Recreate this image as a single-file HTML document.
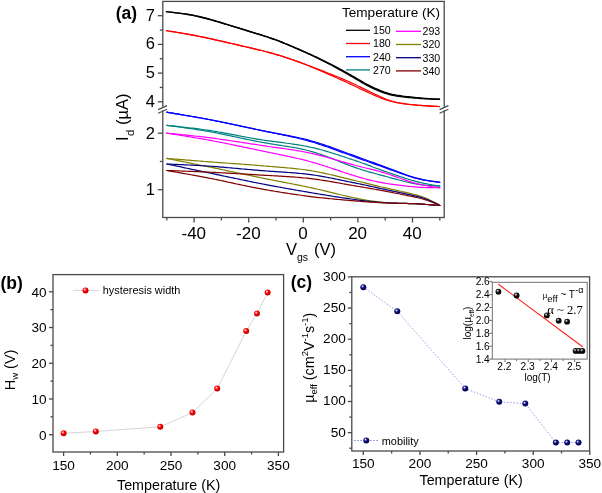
<!DOCTYPE html><html><head><meta charset="utf-8"><style>html,body{margin:0;padding:0;background:#fff;}svg{display:block;will-change:transform;}</style></head><body>
<svg width="602" height="493" viewBox="0 0 602 493">
<defs>
<radialGradient id="gr" cx="0.38" cy="0.35" r="0.62">
 <stop offset="0" stop-color="#ffffff"/><stop offset="0.22" stop-color="#ff8080"/><stop offset="0.45" stop-color="#ff0000"/><stop offset="1" stop-color="#c00000"/>
</radialGradient>
<radialGradient id="gb" cx="0.38" cy="0.35" r="0.62">
 <stop offset="0" stop-color="#ffffff"/><stop offset="0.22" stop-color="#7070c0"/><stop offset="0.45" stop-color="#10107a"/><stop offset="1" stop-color="#000050"/>
</radialGradient>
<radialGradient id="gk" cx="0.38" cy="0.35" r="0.62">
 <stop offset="0" stop-color="#ffffff"/><stop offset="0.22" stop-color="#808080"/><stop offset="0.45" stop-color="#111111"/><stop offset="1" stop-color="#000000"/>
</radialGradient>
</defs>
<rect x="0" y="0" width="602" height="493" fill="#ffffff"/>
<path d="M166.50 11.60 L168.50 11.90 L170.50 12.13 L172.50 12.35 L174.50 12.59 L176.50 12.84 L178.50 13.09 L180.50 13.35 L182.50 13.63 L184.50 13.92 L186.50 14.23 L188.50 14.55 L190.50 14.90 L192.50 15.26 L194.50 15.65 L196.50 16.07 L198.50 16.51 L200.50 16.98 L202.50 17.47 L204.50 17.98 L206.50 18.51 L208.50 19.05 L210.50 19.61 L212.50 20.17 L214.50 20.75 L216.50 21.33 L218.50 21.92 L220.50 22.52 L222.50 23.12 L224.50 23.72 L226.50 24.33 L228.50 24.94 L230.50 25.56 L232.50 26.18 L234.50 26.80 L236.50 27.42 L238.50 28.04 L240.50 28.66 L242.50 29.28 L244.50 29.90 L246.50 30.52 L248.50 31.13 L250.50 31.74 L252.50 32.35 L254.50 32.96 L256.50 33.57 L258.50 34.18 L260.50 34.79 L262.50 35.41 L264.50 36.05 L266.50 36.69 L268.50 37.36 L270.50 38.04 L272.50 38.73 L274.50 39.45 L276.50 40.19 L278.50 40.95 L280.50 41.73 L282.50 42.52 L284.50 43.33 L286.50 44.15 L288.50 44.98 L290.50 45.82 L292.50 46.67 L294.50 47.53 L296.50 48.39 L298.50 49.25 L300.50 50.12 L302.50 50.99 L304.50 51.86 L306.50 52.73 L308.50 53.61 L310.50 54.50 L312.50 55.40 L314.50 56.30 L316.50 57.22 L318.50 58.15 L320.50 59.09 L322.50 60.05 L324.50 61.02 L326.50 62.01 L328.50 63.02 L330.50 64.05 L332.50 65.08 L334.50 66.14 L336.50 67.20 L338.50 68.27 L340.50 69.35 L342.50 70.44 L344.50 71.53 L346.50 72.63 L348.50 73.74 L350.50 74.87 L352.50 76.01 L354.50 77.17 L356.50 78.34 L358.50 79.52 L360.50 80.70 L362.50 81.87 L364.50 83.00 L366.50 84.10 L368.50 85.15 L370.50 86.16 L372.50 87.12 L374.50 88.04 L376.50 88.92 L378.50 89.76 L380.50 90.56 L382.50 91.32 L384.50 92.04 L386.50 92.70 L388.50 93.31 L390.50 93.86 L392.50 94.36 L394.50 94.79 L396.50 95.18 L398.50 95.51 L400.50 95.81 L402.50 96.08 L404.50 96.34 L406.50 96.58 L408.50 96.81 L410.50 97.03 L412.50 97.25 L414.50 97.46 L416.50 97.66 L418.50 97.85 L420.50 98.03 L422.50 98.20 L424.50 98.36 L426.50 98.52 L428.50 98.66 L430.50 98.80 L432.50 98.93 L434.50 99.04 L436.50 99.15 L438.50 99.23 L439.50 99.28" fill="none" stroke="#000000" stroke-width="1.4" stroke-linejoin="round" stroke-linecap="round" />
<path d="M166.50 11.60 L168.50 11.90 L170.50 12.13 L172.50 12.35 L174.50 12.59 L176.50 12.84 L178.50 13.09 L180.50 13.35 L182.50 13.63 L184.50 13.92 L186.50 14.23 L188.50 14.55 L190.50 14.90 L192.50 15.26 L194.50 15.65 L196.50 16.07 L198.50 16.51 L200.50 16.98 L202.50 17.47 L204.50 17.98 L206.50 18.51 L208.50 19.05 L210.50 19.61 L212.50 20.17 L214.50 20.75 L216.50 21.33 L218.50 21.92 L220.50 22.52 L222.50 23.12 L224.50 23.72 L226.50 24.33 L228.50 24.94 L230.50 25.56 L232.50 26.18 L234.50 26.80 L236.50 27.42 L238.50 28.04 L240.50 28.66 L242.50 29.28 L244.50 29.90 L246.50 30.52 L248.50 31.13 L250.50 31.74 L252.50 32.35 L254.50 32.96 L256.50 33.57 L258.50 34.18 L260.50 34.79 L262.50 35.41 L264.50 36.05 L266.50 36.69 L268.50 37.36 L270.50 38.04 L272.50 38.73 L274.50 39.45 L276.50 40.19 L278.50 40.94 L280.50 41.71 L282.50 42.50 L284.50 43.30 L286.50 44.12 L288.50 44.95 L290.50 45.79 L292.50 46.64 L294.50 47.50 L296.50 48.37 L298.50 49.25 L300.50 50.14 L302.50 51.03 L304.50 51.94 L306.50 52.85 L308.50 53.77 L310.50 54.70 L312.50 55.64 L314.50 56.60 L316.50 57.56 L318.50 58.54 L320.50 59.52 L322.50 60.53 L324.50 61.54 L326.50 62.57 L328.50 63.61 L330.50 64.67 L332.50 65.74 L334.50 66.83 L336.50 67.92 L338.50 69.02 L340.50 70.13 L342.50 71.25 L344.50 72.37 L346.50 73.49 L348.50 74.62 L350.50 75.77 L352.50 76.93 L354.50 78.11 L356.50 79.29 L358.50 80.49 L360.50 81.68 L362.50 82.85 L364.50 83.99 L366.50 85.09 L368.50 86.14 L370.50 87.15 L372.50 88.11 L374.50 89.03 L376.50 89.90 L378.50 90.74 L380.50 91.53 L382.50 92.28 L384.50 92.98 L386.50 93.63 L388.50 94.22 L390.50 94.75 L392.50 95.23 L394.50 95.64 L396.50 96.00 L398.50 96.31 L400.50 96.58 L402.50 96.83 L404.50 97.05 L406.50 97.26 L408.50 97.46 L410.50 97.65 L412.50 97.83 L414.50 98.00 L416.50 98.16 L418.50 98.31 L420.50 98.45 L422.50 98.58 L424.50 98.70 L426.50 98.81 L428.50 98.92 L430.50 99.01 L432.50 99.10 L434.50 99.17 L436.50 99.23 L438.50 99.27 L439.50 99.29" fill="none" stroke="#000000" stroke-width="1.4" stroke-linejoin="round" stroke-linecap="round" />
<path d="M166.50 30.60 L168.50 30.98 L170.50 31.29 L172.50 31.59 L174.50 31.92 L176.50 32.25 L178.50 32.58 L180.50 32.92 L182.50 33.26 L184.50 33.60 L186.50 33.95 L188.50 34.31 L190.50 34.67 L192.50 35.05 L194.50 35.43 L196.50 35.82 L198.50 36.22 L200.50 36.62 L202.50 37.04 L204.50 37.46 L206.50 37.89 L208.50 38.32 L210.50 38.76 L212.50 39.20 L214.50 39.64 L216.50 40.09 L218.50 40.54 L220.50 40.99 L222.50 41.44 L224.50 41.89 L226.50 42.35 L228.50 42.81 L230.50 43.27 L232.50 43.73 L234.50 44.19 L236.50 44.65 L238.50 45.12 L240.50 45.58 L242.50 46.05 L244.50 46.51 L246.50 46.98 L248.50 47.45 L250.50 47.92 L252.50 48.39 L254.50 48.86 L256.50 49.33 L258.50 49.80 L260.50 50.29 L262.50 50.77 L264.50 51.27 L266.50 51.78 L268.50 52.31 L270.50 52.85 L272.50 53.41 L274.50 53.98 L276.50 54.57 L278.50 55.18 L280.50 55.80 L282.50 56.43 L284.50 57.08 L286.50 57.74 L288.50 58.41 L290.50 59.09 L292.50 59.78 L294.50 60.47 L296.50 61.17 L298.50 61.88 L300.50 62.59 L302.50 63.31 L304.50 64.04 L306.50 64.77 L308.50 65.51 L310.50 66.26 L312.50 67.01 L314.50 67.78 L316.50 68.54 L318.50 69.32 L320.50 70.09 L322.50 70.87 L324.50 71.66 L326.50 72.45 L328.50 73.24 L330.50 74.03 L332.50 74.83 L334.50 75.64 L336.50 76.45 L338.50 77.26 L340.50 78.08 L342.50 78.92 L344.50 79.76 L346.50 80.62 L348.50 81.49 L350.50 82.39 L352.50 83.30 L354.50 84.24 L356.50 85.20 L358.50 86.18 L360.50 87.16 L362.50 88.15 L364.50 89.14 L366.50 90.12 L368.50 91.09 L370.50 92.05 L372.50 93.01 L374.50 93.96 L376.50 94.90 L378.50 95.83 L380.50 96.74 L382.50 97.62 L384.50 98.45 L386.50 99.24 L388.50 99.96 L390.50 100.61 L392.50 101.21 L394.50 101.74 L396.50 102.22 L398.50 102.64 L400.50 103.02 L402.50 103.37 L404.50 103.69 L406.50 103.99 L408.50 104.27 L410.50 104.52 L412.50 104.74 L414.50 104.95 L416.50 105.13 L418.50 105.29 L420.50 105.43 L422.50 105.55 L424.50 105.68 L426.50 105.80 L428.50 105.92 L430.50 106.04 L432.50 106.16 L434.50 106.28 L436.50 106.39 L438.50 106.51 L439.50 106.57" fill="none" stroke="#ff0000" stroke-width="1.2" stroke-linejoin="round" stroke-linecap="round" />
<path d="M166.50 30.60 L168.50 30.98 L170.50 31.29 L172.50 31.59 L174.50 31.92 L176.50 32.25 L178.50 32.58 L180.50 32.92 L182.50 33.26 L184.50 33.60 L186.50 33.95 L188.50 34.31 L190.50 34.67 L192.50 35.05 L194.50 35.43 L196.50 35.82 L198.50 36.22 L200.50 36.62 L202.50 37.04 L204.50 37.46 L206.50 37.89 L208.50 38.32 L210.50 38.76 L212.50 39.20 L214.50 39.64 L216.50 40.09 L218.50 40.54 L220.50 40.99 L222.50 41.44 L224.50 41.89 L226.50 42.35 L228.50 42.81 L230.50 43.27 L232.50 43.73 L234.50 44.19 L236.50 44.65 L238.50 45.12 L240.50 45.58 L242.50 46.05 L244.50 46.51 L246.50 46.98 L248.50 47.45 L250.50 47.92 L252.50 48.39 L254.50 48.86 L256.50 49.33 L258.50 49.80 L260.50 50.29 L262.50 50.77 L264.50 51.27 L266.50 51.78 L268.50 52.31 L270.50 52.85 L272.50 53.41 L274.50 53.98 L276.50 54.57 L278.50 55.17 L280.50 55.78 L282.50 56.40 L284.50 57.04 L286.50 57.69 L288.50 58.36 L290.50 59.03 L292.50 59.72 L294.50 60.43 L296.50 61.14 L298.50 61.87 L300.50 62.62 L302.50 63.38 L304.50 64.16 L306.50 64.95 L308.50 65.76 L310.50 66.58 L312.50 67.42 L314.50 68.26 L316.50 69.10 L318.50 69.96 L320.50 70.82 L322.50 71.68 L324.50 72.54 L326.50 73.40 L328.50 74.27 L330.50 75.15 L332.50 76.03 L334.50 76.91 L336.50 77.80 L338.50 78.69 L340.50 79.58 L342.50 80.48 L344.50 81.39 L346.50 82.30 L348.50 83.22 L350.50 84.14 L352.50 85.08 L354.50 86.03 L356.50 86.99 L358.50 87.95 L360.50 88.92 L362.50 89.88 L364.50 90.83 L366.50 91.76 L368.50 92.68 L370.50 93.57 L372.50 94.46 L374.50 95.33 L376.50 96.18 L378.50 97.01 L380.50 97.82 L382.50 98.60 L384.50 99.33 L386.50 100.02 L388.50 100.65 L390.50 101.22 L392.50 101.73 L394.50 102.19 L396.50 102.59 L398.50 102.95 L400.50 103.27 L402.50 103.56 L404.50 103.82 L406.50 104.07 L408.50 104.31 L410.50 104.53 L412.50 104.73 L414.50 104.92 L416.50 105.09 L418.50 105.25 L420.50 105.39 L422.50 105.53 L424.50 105.66 L426.50 105.78 L428.50 105.91 L430.50 106.03 L432.50 106.16 L434.50 106.28 L436.50 106.39 L438.50 106.51 L439.50 106.57" fill="none" stroke="#ff0000" stroke-width="1.2" stroke-linejoin="round" stroke-linecap="round" />
<path d="M166.80 112.20 L168.80 112.58 L170.80 112.90 L172.80 113.21 L174.80 113.54 L176.80 113.88 L178.80 114.21 L180.80 114.55 L182.80 114.88 L184.80 115.22 L186.80 115.56 L188.80 115.90 L190.80 116.24 L192.80 116.59 L194.80 116.93 L196.80 117.29 L198.80 117.64 L200.80 118.00 L202.80 118.36 L204.80 118.73 L206.80 119.11 L208.80 119.49 L210.80 119.87 L212.80 120.26 L214.80 120.66 L216.80 121.06 L218.80 121.47 L220.80 121.88 L222.80 122.29 L224.80 122.71 L226.80 123.13 L228.80 123.55 L230.80 123.97 L232.80 124.40 L234.80 124.83 L236.80 125.26 L238.80 125.69 L240.80 126.12 L242.80 126.55 L244.80 126.97 L246.80 127.40 L248.80 127.83 L250.80 128.26 L252.80 128.68 L254.80 129.10 L256.80 129.52 L258.80 129.94 L260.80 130.35 L262.80 130.75 L264.80 131.15 L266.80 131.54 L268.80 131.93 L270.80 132.31 L272.80 132.69 L274.80 133.06 L276.80 133.43 L278.80 133.81 L280.80 134.18 L282.80 134.55 L284.80 134.93 L286.80 135.32 L288.80 135.70 L290.80 136.10 L292.80 136.50 L294.80 136.92 L296.80 137.34 L298.80 137.77 L300.80 138.22 L302.80 138.69 L304.80 139.17 L306.80 139.67 L308.80 140.19 L310.80 140.73 L312.80 141.30 L314.80 141.88 L316.80 142.48 L318.80 143.10 L320.80 143.74 L322.80 144.39 L324.80 145.06 L326.80 145.74 L328.80 146.43 L330.80 147.13 L332.80 147.84 L334.80 148.56 L336.80 149.29 L338.80 150.02 L340.80 150.76 L342.80 151.50 L344.80 152.23 L346.80 152.97 L348.80 153.70 L350.80 154.43 L352.80 155.16 L354.80 155.88 L356.80 156.60 L358.80 157.31 L360.80 158.03 L362.80 158.76 L364.80 159.48 L366.80 160.22 L368.80 160.95 L370.80 161.69 L372.80 162.43 L374.80 163.17 L376.80 163.90 L378.80 164.64 L380.80 165.38 L382.80 166.11 L384.80 166.85 L386.80 167.60 L388.80 168.35 L390.80 169.10 L392.80 169.85 L394.80 170.61 L396.80 171.37 L398.80 172.12 L400.80 172.86 L402.80 173.60 L404.80 174.32 L406.80 175.03 L408.80 175.72 L410.80 176.39 L412.80 177.02 L414.80 177.62 L416.80 178.18 L418.80 178.70 L420.80 179.18 L422.80 179.62 L424.80 180.02 L426.80 180.39 L428.80 180.73 L430.80 181.05 L432.80 181.35 L434.80 181.64 L436.80 181.89 L438.80 182.18 L439.80 182.37" fill="none" stroke="#0000ff" stroke-width="1.2" stroke-linejoin="round" stroke-linecap="round" />
<path d="M166.80 112.20 L168.80 112.58 L170.80 112.90 L172.80 113.21 L174.80 113.54 L176.80 113.88 L178.80 114.21 L180.80 114.55 L182.80 114.88 L184.80 115.22 L186.80 115.56 L188.80 115.90 L190.80 116.24 L192.80 116.59 L194.80 116.93 L196.80 117.29 L198.80 117.64 L200.80 118.00 L202.80 118.36 L204.80 118.73 L206.80 119.11 L208.80 119.48 L210.80 119.87 L212.80 120.26 L214.80 120.65 L216.80 121.05 L218.80 121.45 L220.80 121.86 L222.80 122.27 L224.80 122.68 L226.80 123.09 L228.80 123.51 L230.80 123.93 L232.80 124.35 L234.80 124.77 L236.80 125.20 L238.80 125.63 L240.80 126.05 L242.80 126.48 L244.80 126.91 L246.80 127.34 L248.80 127.78 L250.80 128.21 L252.80 128.64 L254.80 129.07 L256.80 129.51 L258.80 129.93 L260.80 130.36 L262.80 130.79 L264.80 131.21 L266.80 131.63 L268.80 132.04 L270.80 132.46 L272.80 132.87 L274.80 133.28 L276.80 133.69 L278.80 134.10 L280.80 134.51 L282.80 134.93 L284.80 135.35 L286.80 135.77 L288.80 136.20 L290.80 136.64 L292.80 137.08 L294.80 137.54 L296.80 138.00 L298.80 138.47 L300.80 138.96 L302.80 139.46 L304.80 139.97 L306.80 140.50 L308.80 141.05 L310.80 141.62 L312.80 142.20 L314.80 142.80 L316.80 143.42 L318.80 144.06 L320.80 144.71 L322.80 145.38 L324.80 146.06 L326.80 146.75 L328.80 147.46 L330.80 148.17 L332.80 148.89 L334.80 149.61 L336.80 150.35 L338.80 151.09 L340.80 151.83 L342.80 152.57 L344.80 153.31 L346.80 154.05 L348.80 154.78 L350.80 155.51 L352.80 156.24 L354.80 156.96 L356.80 157.67 L358.80 158.39 L360.80 159.10 L362.80 159.81 L364.80 160.53 L366.80 161.24 L368.80 161.96 L370.80 162.68 L372.80 163.40 L374.80 164.11 L376.80 164.83 L378.80 165.54 L380.80 166.25 L382.80 166.96 L384.80 167.67 L386.80 168.38 L388.80 169.10 L390.80 169.82 L392.80 170.54 L394.80 171.26 L396.80 171.98 L398.80 172.70 L400.80 173.40 L402.80 174.10 L404.80 174.79 L406.80 175.47 L408.80 176.12 L410.80 176.75 L412.80 177.36 L414.80 177.93 L416.80 178.46 L418.80 178.95 L420.80 179.40 L422.80 179.81 L424.80 180.19 L426.80 180.53 L428.80 180.85 L430.80 181.15 L432.80 181.43 L434.80 181.69 L436.80 181.93 L438.80 182.20 L439.80 182.37" fill="none" stroke="#0000ff" stroke-width="1.2" stroke-linejoin="round" stroke-linecap="round" />
<path d="M166.80 125.30 L168.80 125.56 L170.80 125.76 L172.80 125.97 L174.80 126.18 L176.80 126.40 L178.80 126.62 L180.80 126.84 L182.80 127.06 L184.80 127.29 L186.80 127.51 L188.80 127.74 L190.80 127.98 L192.80 128.21 L194.80 128.46 L196.80 128.70 L198.80 128.96 L200.80 129.22 L202.80 129.49 L204.80 129.76 L206.80 130.05 L208.80 130.35 L210.80 130.65 L212.80 130.97 L214.80 131.30 L216.80 131.64 L218.80 131.98 L220.80 132.34 L222.80 132.70 L224.80 133.07 L226.80 133.44 L228.80 133.81 L230.80 134.19 L232.80 134.57 L234.80 134.96 L236.80 135.34 L238.80 135.72 L240.80 136.11 L242.80 136.49 L244.80 136.87 L246.80 137.24 L248.80 137.61 L250.80 137.98 L252.80 138.34 L254.80 138.69 L256.80 139.04 L258.80 139.37 L260.80 139.70 L262.80 140.01 L264.80 140.32 L266.80 140.61 L268.80 140.89 L270.80 141.17 L272.80 141.44 L274.80 141.70 L276.80 141.95 L278.80 142.21 L280.80 142.46 L282.80 142.71 L284.80 142.97 L286.80 143.23 L288.80 143.49 L290.80 143.76 L292.80 144.04 L294.80 144.33 L296.80 144.63 L298.80 144.95 L300.80 145.28 L302.80 145.63 L304.80 146.00 L306.80 146.39 L308.80 146.80 L310.80 147.24 L312.80 147.70 L314.80 148.17 L316.80 148.67 L318.80 149.20 L320.80 149.73 L322.80 150.29 L324.80 150.86 L326.80 151.44 L328.80 152.03 L330.80 152.64 L332.80 153.26 L334.80 153.89 L336.80 154.53 L338.80 155.17 L340.80 155.82 L342.80 156.47 L344.80 157.13 L346.80 157.79 L348.80 158.45 L350.80 159.12 L352.80 159.78 L354.80 160.44 L356.80 161.12 L358.80 161.80 L360.80 162.49 L362.80 163.20 L364.80 163.93 L366.80 164.67 L368.80 165.42 L370.80 166.18 L372.80 166.94 L374.80 167.69 L376.80 168.44 L378.80 169.17 L380.80 169.90 L382.80 170.61 L384.80 171.31 L386.80 172.01 L388.80 172.70 L390.80 173.39 L392.80 174.08 L394.80 174.76 L396.80 175.44 L398.80 176.11 L400.80 176.78 L402.80 177.44 L404.80 178.09 L406.80 178.72 L408.80 179.35 L410.80 179.96 L412.80 180.55 L414.80 181.11 L416.80 181.64 L418.80 182.15 L420.80 182.63 L422.80 183.08 L424.80 183.50 L426.80 183.89 L428.80 184.27 L430.80 184.63 L432.80 184.98 L434.80 185.31 L436.80 185.61 L438.80 185.95 L439.80 186.16" fill="none" stroke="#008080" stroke-width="1.2" stroke-linejoin="round" stroke-linecap="round" />
<path d="M166.80 125.30 L168.80 125.62 L170.80 125.88 L172.80 126.14 L174.80 126.41 L176.80 126.69 L178.80 126.96 L180.80 127.24 L182.80 127.52 L184.80 127.80 L186.80 128.08 L188.80 128.37 L190.80 128.66 L192.80 128.95 L194.80 129.25 L196.80 129.55 L198.80 129.86 L200.80 130.17 L202.80 130.50 L204.80 130.83 L206.80 131.17 L208.80 131.51 L210.80 131.87 L212.80 132.24 L214.80 132.62 L216.80 133.00 L218.80 133.40 L220.80 133.80 L222.80 134.21 L224.80 134.62 L226.80 135.04 L228.80 135.46 L230.80 135.88 L232.80 136.31 L234.80 136.74 L236.80 137.17 L238.80 137.60 L240.80 138.03 L242.80 138.45 L244.80 138.88 L246.80 139.30 L248.80 139.72 L250.80 140.14 L252.80 140.55 L254.80 140.95 L256.80 141.35 L258.80 141.74 L260.80 142.12 L262.80 142.49 L264.80 142.85 L266.80 143.19 L268.80 143.53 L270.80 143.86 L272.80 144.18 L274.80 144.49 L276.80 144.81 L278.80 145.11 L280.80 145.42 L282.80 145.73 L284.80 146.05 L286.80 146.36 L288.80 146.69 L290.80 147.02 L292.80 147.37 L294.80 147.72 L296.80 148.10 L298.80 148.48 L300.80 148.89 L302.80 149.32 L304.80 149.77 L306.80 150.25 L308.80 150.76 L310.80 151.30 L312.80 151.87 L314.80 152.46 L316.80 153.09 L318.80 153.75 L320.80 154.43 L322.80 155.13 L324.80 155.85 L326.80 156.59 L328.80 157.35 L330.80 158.12 L332.80 158.89 L334.80 159.68 L336.80 160.48 L338.80 161.27 L340.80 162.07 L342.80 162.87 L344.80 163.66 L346.80 164.43 L348.80 165.20 L350.80 165.95 L352.80 166.67 L354.80 167.38 L356.80 168.07 L358.80 168.73 L360.80 169.38 L362.80 170.01 L364.80 170.63 L366.80 171.23 L368.80 171.81 L370.80 172.38 L372.80 172.94 L374.80 173.49 L376.80 174.03 L378.80 174.57 L380.80 175.11 L382.80 175.65 L384.80 176.19 L386.80 176.74 L388.80 177.28 L390.80 177.82 L392.80 178.36 L394.80 178.90 L396.80 179.43 L398.80 179.96 L400.80 180.48 L402.80 180.99 L404.80 181.49 L406.80 181.97 L408.80 182.44 L410.80 182.88 L412.80 183.31 L414.80 183.70 L416.80 184.06 L418.80 184.38 L420.80 184.67 L422.80 184.92 L424.80 185.14 L426.80 185.33 L428.80 185.49 L430.80 185.63 L432.80 185.77 L434.80 185.89 L436.80 185.99 L438.80 186.10 L439.80 186.19" fill="none" stroke="#008080" stroke-width="1.2" stroke-linejoin="round" stroke-linecap="round" />
<path d="M166.80 133.10 L168.80 133.34 L170.80 133.53 L172.80 133.72 L174.80 133.92 L176.80 134.12 L178.80 134.33 L180.80 134.53 L182.80 134.74 L184.80 134.94 L186.80 135.15 L188.80 135.36 L190.80 135.58 L192.80 135.79 L194.80 136.01 L196.80 136.23 L198.80 136.46 L200.80 136.69 L202.80 136.92 L204.80 137.16 L206.80 137.41 L208.80 137.66 L210.80 137.92 L212.80 138.18 L214.80 138.45 L216.80 138.72 L218.80 139.00 L220.80 139.29 L222.80 139.57 L224.80 139.86 L226.80 140.15 L228.80 140.45 L230.80 140.74 L232.80 141.04 L234.80 141.34 L236.80 141.65 L238.80 141.95 L240.80 142.26 L242.80 142.56 L244.80 142.87 L246.80 143.18 L248.80 143.48 L250.80 143.79 L252.80 144.10 L254.80 144.40 L256.80 144.71 L258.80 145.01 L260.80 145.31 L262.80 145.61 L264.80 145.90 L266.80 146.19 L268.80 146.47 L270.80 146.76 L272.80 147.04 L274.80 147.32 L276.80 147.60 L278.80 147.88 L280.80 148.16 L282.80 148.44 L284.80 148.73 L286.80 149.02 L288.80 149.32 L290.80 149.62 L292.80 149.93 L294.80 150.25 L296.80 150.58 L298.80 150.91 L300.80 151.26 L302.80 151.62 L304.80 152.00 L306.80 152.39 L308.80 152.79 L310.80 153.22 L312.80 153.66 L314.80 154.12 L316.80 154.60 L318.80 155.09 L320.80 155.60 L322.80 156.12 L324.80 156.66 L326.80 157.20 L328.80 157.76 L330.80 158.33 L332.80 158.90 L334.80 159.47 L336.80 160.06 L338.80 160.64 L340.80 161.23 L342.80 161.81 L344.80 162.40 L346.80 162.98 L348.80 163.55 L350.80 164.12 L352.80 164.67 L354.80 165.21 L356.80 165.74 L358.80 166.26 L360.80 166.77 L362.80 167.26 L364.80 167.75 L366.80 168.23 L368.80 168.71 L370.80 169.19 L372.80 169.68 L374.80 170.18 L376.80 170.70 L378.80 171.24 L380.80 171.81 L382.80 172.40 L384.80 173.01 L386.80 173.64 L388.80 174.30 L390.80 174.98 L392.80 175.67 L394.80 176.37 L396.80 177.07 L398.80 177.78 L400.80 178.49 L402.80 179.20 L404.80 179.89 L406.80 180.58 L408.80 181.24 L410.80 181.89 L412.80 182.50 L414.80 183.08 L416.80 183.62 L418.80 184.12 L420.80 184.58 L422.80 185.01 L424.80 185.40 L426.80 185.77 L428.80 186.11 L430.80 186.42 L432.80 186.73 L434.80 187.02 L436.80 187.29 L438.80 187.58 L439.80 187.77" fill="none" stroke="#ff00ff" stroke-width="1.2" stroke-linejoin="round" stroke-linecap="round" />
<path d="M166.80 133.10 L168.80 133.47 L170.80 133.77 L172.80 134.07 L174.80 134.39 L176.80 134.71 L178.80 135.03 L180.80 135.35 L182.80 135.67 L184.80 135.99 L186.80 136.31 L188.80 136.64 L190.80 136.97 L192.80 137.30 L194.80 137.64 L196.80 137.98 L198.80 138.32 L200.80 138.66 L202.80 139.01 L204.80 139.37 L206.80 139.73 L208.80 140.09 L210.80 140.46 L212.80 140.84 L214.80 141.22 L216.80 141.60 L218.80 141.99 L220.80 142.39 L222.80 142.78 L224.80 143.18 L226.80 143.58 L228.80 143.99 L230.80 144.39 L232.80 144.80 L234.80 145.21 L236.80 145.63 L238.80 146.04 L240.80 146.46 L242.80 146.87 L244.80 147.29 L246.80 147.71 L248.80 148.13 L250.80 148.55 L252.80 148.98 L254.80 149.40 L256.80 149.82 L258.80 150.24 L260.80 150.66 L262.80 151.08 L264.80 151.50 L266.80 151.91 L268.80 152.33 L270.80 152.74 L272.80 153.15 L274.80 153.56 L276.80 153.97 L278.80 154.38 L280.80 154.80 L282.80 155.21 L284.80 155.63 L286.80 156.06 L288.80 156.49 L290.80 156.92 L292.80 157.36 L294.80 157.81 L296.80 158.27 L298.80 158.73 L300.80 159.20 L302.80 159.69 L304.80 160.19 L306.80 160.70 L308.80 161.22 L310.80 161.76 L312.80 162.32 L314.80 162.89 L316.80 163.48 L318.80 164.09 L320.80 164.71 L322.80 165.34 L324.80 165.99 L326.80 166.64 L328.80 167.30 L330.80 167.97 L332.80 168.65 L334.80 169.33 L336.80 170.01 L338.80 170.69 L340.80 171.37 L342.80 172.05 L344.80 172.72 L346.80 173.38 L348.80 174.03 L350.80 174.67 L352.80 175.30 L354.80 175.91 L356.80 176.50 L358.80 177.09 L360.80 177.66 L362.80 178.22 L364.80 178.77 L366.80 179.30 L368.80 179.82 L370.80 180.31 L372.80 180.79 L374.80 181.24 L376.80 181.66 L378.80 182.07 L380.80 182.46 L382.80 182.83 L384.80 183.18 L386.80 183.51 L388.80 183.82 L390.80 184.12 L392.80 184.41 L394.80 184.68 L396.80 184.95 L398.80 185.20 L400.80 185.44 L402.80 185.67 L404.80 185.89 L406.80 186.10 L408.80 186.31 L410.80 186.51 L412.80 186.69 L414.80 186.87 L416.80 187.03 L418.80 187.17 L420.80 187.29 L422.80 187.40 L424.80 187.48 L426.80 187.55 L428.80 187.61 L430.80 187.65 L432.80 187.69 L434.80 187.72 L436.80 187.74 L438.80 187.77 L439.80 187.80" fill="none" stroke="#ff00ff" stroke-width="1.2" stroke-linejoin="round" stroke-linecap="round" />
<path d="M166.80 158.40 L168.80 158.58 L170.80 158.74 L172.80 158.89 L174.80 159.06 L176.80 159.22 L178.80 159.39 L180.80 159.55 L182.80 159.71 L184.80 159.88 L186.80 160.04 L188.80 160.21 L190.80 160.37 L192.80 160.53 L194.80 160.69 L196.80 160.85 L198.80 161.01 L200.80 161.17 L202.80 161.33 L204.80 161.49 L206.80 161.65 L208.80 161.80 L210.80 161.96 L212.80 162.11 L214.80 162.26 L216.80 162.40 L218.80 162.55 L220.80 162.69 L222.80 162.84 L224.80 162.98 L226.80 163.12 L228.80 163.26 L230.80 163.40 L232.80 163.54 L234.80 163.68 L236.80 163.82 L238.80 163.96 L240.80 164.11 L242.80 164.25 L244.80 164.40 L246.80 164.55 L248.80 164.70 L250.80 164.86 L252.80 165.02 L254.80 165.18 L256.80 165.34 L258.80 165.50 L260.80 165.67 L262.80 165.83 L264.80 165.99 L266.80 166.15 L268.80 166.32 L270.80 166.48 L272.80 166.63 L274.80 166.79 L276.80 166.95 L278.80 167.11 L280.80 167.28 L282.80 167.45 L284.80 167.62 L286.80 167.80 L288.80 167.98 L290.80 168.17 L292.80 168.37 L294.80 168.58 L296.80 168.79 L298.80 169.02 L300.80 169.26 L302.80 169.51 L304.80 169.78 L306.80 170.06 L308.80 170.36 L310.80 170.68 L312.80 171.01 L314.80 171.36 L316.80 171.73 L318.80 172.12 L320.80 172.52 L322.80 172.94 L324.80 173.37 L326.80 173.81 L328.80 174.27 L330.80 174.73 L332.80 175.20 L334.80 175.68 L336.80 176.16 L338.80 176.65 L340.80 177.14 L342.80 177.63 L344.80 178.12 L346.80 178.62 L348.80 179.10 L350.80 179.59 L352.80 180.07 L354.80 180.54 L356.80 181.02 L358.80 181.49 L360.80 181.96 L362.80 182.44 L364.80 182.92 L366.80 183.40 L368.80 183.88 L370.80 184.37 L372.80 184.86 L374.80 185.34 L376.80 185.82 L378.80 186.30 L380.80 186.77 L382.80 187.24 L384.80 187.70 L386.80 188.16 L388.80 188.61 L390.80 189.06 L392.80 189.50 L394.80 189.95 L396.80 190.39 L398.80 190.83 L400.80 191.28 L402.80 191.72 L404.80 192.17 L406.80 192.62 L408.80 193.08 L410.80 193.55 L412.80 194.04 L414.80 194.54 L416.80 195.07 L418.80 195.64 L420.80 196.27 L422.80 196.96 L424.80 197.73 L426.80 198.57 L428.80 199.49 L430.80 200.48 L432.80 201.51 L434.80 202.55 L436.80 203.56 L438.80 204.72 L439.80 205.39" fill="none" stroke="#808000" stroke-width="1.2" stroke-linejoin="round" stroke-linecap="round" />
<path d="M166.80 158.40 L168.80 158.85 L170.80 159.23 L172.80 159.60 L174.80 160.00 L176.80 160.40 L178.80 160.80 L180.80 161.20 L182.80 161.60 L184.80 162.00 L186.80 162.40 L188.80 162.80 L190.80 163.20 L192.80 163.61 L194.80 164.01 L196.80 164.41 L198.80 164.82 L200.80 165.22 L202.80 165.63 L204.80 166.04 L206.80 166.45 L208.80 166.86 L210.80 167.27 L212.80 167.68 L214.80 168.10 L216.80 168.52 L218.80 168.94 L220.80 169.36 L222.80 169.78 L224.80 170.20 L226.80 170.63 L228.80 171.05 L230.80 171.47 L232.80 171.90 L234.80 172.32 L236.80 172.75 L238.80 173.17 L240.80 173.59 L242.80 174.02 L244.80 174.44 L246.80 174.86 L248.80 175.28 L250.80 175.70 L252.80 176.11 L254.80 176.53 L256.80 176.94 L258.80 177.35 L260.80 177.75 L262.80 178.16 L264.80 178.56 L266.80 178.96 L268.80 179.35 L270.80 179.74 L272.80 180.13 L274.80 180.52 L276.80 180.91 L278.80 181.30 L280.80 181.68 L282.80 182.07 L284.80 182.45 L286.80 182.84 L288.80 183.23 L290.80 183.62 L292.80 184.01 L294.80 184.40 L296.80 184.80 L298.80 185.20 L300.80 185.60 L302.80 186.01 L304.80 186.42 L306.80 186.84 L308.80 187.26 L310.80 187.69 L312.80 188.13 L314.80 188.58 L316.80 189.03 L318.80 189.49 L320.80 189.96 L322.80 190.43 L324.80 190.90 L326.80 191.38 L328.80 191.86 L330.80 192.35 L332.80 192.83 L334.80 193.32 L336.80 193.80 L338.80 194.29 L340.80 194.77 L342.80 195.24 L344.80 195.71 L346.80 196.18 L348.80 196.63 L350.80 197.08 L352.80 197.51 L354.80 197.93 L356.80 198.35 L358.80 198.75 L360.80 199.14 L362.80 199.52 L364.80 199.89 L366.80 200.24 L368.80 200.57 L370.80 200.89 L372.80 201.18 L374.80 201.45 L376.80 201.71 L378.80 201.94 L380.80 202.15 L382.80 202.34 L384.80 202.51 L386.80 202.66 L388.80 202.79 L390.80 202.91 L392.80 203.00 L394.80 203.09 L396.80 203.16 L398.80 203.23 L400.80 203.29 L402.80 203.35 L404.80 203.41 L406.80 203.47 L408.80 203.53 L410.80 203.60 L412.80 203.68 L414.80 203.77 L416.80 203.87 L418.80 203.98 L420.80 204.10 L422.80 204.23 L424.80 204.36 L426.80 204.51 L428.80 204.65 L430.80 204.80 L432.80 204.95 L434.80 205.10 L436.80 205.24 L438.80 205.40 L439.80 205.49" fill="none" stroke="#808000" stroke-width="1.2" stroke-linejoin="round" stroke-linecap="round" />
<path d="M166.80 164.00 L168.80 164.11 L170.80 164.19 L172.80 164.27 L174.80 164.36 L176.80 164.45 L178.80 164.54 L180.80 164.63 L182.80 164.72 L184.80 164.81 L186.80 164.91 L188.80 165.00 L190.80 165.10 L192.80 165.20 L194.80 165.30 L196.80 165.41 L198.80 165.52 L200.80 165.63 L202.80 165.75 L204.80 165.87 L206.80 166.00 L208.80 166.13 L210.80 166.27 L212.80 166.42 L214.80 166.56 L216.80 166.72 L218.80 166.88 L220.80 167.04 L222.80 167.21 L224.80 167.38 L226.80 167.55 L228.80 167.73 L230.80 167.90 L232.80 168.08 L234.80 168.26 L236.80 168.44 L238.80 168.62 L240.80 168.80 L242.80 168.98 L244.80 169.17 L246.80 169.35 L248.80 169.52 L250.80 169.70 L252.80 169.88 L254.80 170.05 L256.80 170.22 L258.80 170.39 L260.80 170.55 L262.80 170.71 L264.80 170.86 L266.80 171.01 L268.80 171.15 L270.80 171.29 L272.80 171.42 L274.80 171.55 L276.80 171.68 L278.80 171.81 L280.80 171.95 L282.80 172.08 L284.80 172.21 L286.80 172.35 L288.80 172.49 L290.80 172.64 L292.80 172.79 L294.80 172.95 L296.80 173.12 L298.80 173.30 L300.80 173.49 L302.80 173.70 L304.80 173.91 L306.80 174.14 L308.80 174.39 L310.80 174.65 L312.80 174.93 L314.80 175.22 L316.80 175.53 L318.80 175.85 L320.80 176.19 L322.80 176.54 L324.80 176.90 L326.80 177.27 L328.80 177.64 L330.80 178.03 L332.80 178.42 L334.80 178.83 L336.80 179.23 L338.80 179.64 L340.80 180.06 L342.80 180.47 L344.80 180.89 L346.80 181.31 L348.80 181.72 L350.80 182.14 L352.80 182.55 L354.80 182.96 L356.80 183.36 L358.80 183.77 L360.80 184.19 L362.80 184.60 L364.80 185.03 L366.80 185.45 L368.80 185.89 L370.80 186.32 L372.80 186.76 L374.80 187.20 L376.80 187.64 L378.80 188.08 L380.80 188.52 L382.80 188.95 L384.80 189.38 L386.80 189.80 L388.80 190.23 L390.80 190.65 L392.80 191.07 L394.80 191.49 L396.80 191.92 L398.80 192.34 L400.80 192.76 L402.80 193.19 L404.80 193.61 L406.80 194.05 L408.80 194.48 L410.80 194.93 L412.80 195.38 L414.80 195.85 L416.80 196.33 L418.80 196.85 L420.80 197.41 L422.80 198.02 L424.80 198.69 L426.80 199.43 L428.80 200.23 L430.80 201.10 L432.80 202.01 L434.80 202.91 L436.80 203.80 L438.80 204.81 L439.80 205.40" fill="none" stroke="#000080" stroke-width="1.2" stroke-linejoin="round" stroke-linecap="round" />
<path d="M166.80 164.00 L168.80 164.48 L170.80 164.88 L172.80 165.27 L174.80 165.69 L176.80 166.11 L178.80 166.53 L180.80 166.96 L182.80 167.38 L184.80 167.80 L186.80 168.22 L188.80 168.64 L190.80 169.06 L192.80 169.49 L194.80 169.91 L196.80 170.33 L198.80 170.75 L200.80 171.17 L202.80 171.59 L204.80 172.01 L206.80 172.43 L208.80 172.85 L210.80 173.27 L212.80 173.69 L214.80 174.11 L216.80 174.54 L218.80 174.96 L220.80 175.38 L222.80 175.81 L224.80 176.23 L226.80 176.66 L228.80 177.08 L230.80 177.51 L232.80 177.93 L234.80 178.35 L236.80 178.77 L238.80 179.19 L240.80 179.61 L242.80 180.02 L244.80 180.44 L246.80 180.85 L248.80 181.26 L250.80 181.67 L252.80 182.07 L254.80 182.47 L256.80 182.86 L258.80 183.26 L260.80 183.65 L262.80 184.03 L264.80 184.42 L266.80 184.80 L268.80 185.17 L270.80 185.55 L272.80 185.92 L274.80 186.29 L276.80 186.66 L278.80 187.02 L280.80 187.39 L282.80 187.75 L284.80 188.11 L286.80 188.47 L288.80 188.82 L290.80 189.18 L292.80 189.53 L294.80 189.88 L296.80 190.23 L298.80 190.58 L300.80 190.92 L302.80 191.27 L304.80 191.61 L306.80 191.95 L308.80 192.29 L310.80 192.63 L312.80 192.97 L314.80 193.30 L316.80 193.64 L318.80 193.97 L320.80 194.30 L322.80 194.63 L324.80 194.96 L326.80 195.28 L328.80 195.61 L330.80 195.93 L332.80 196.25 L334.80 196.57 L336.80 196.88 L338.80 197.19 L340.80 197.50 L342.80 197.81 L344.80 198.11 L346.80 198.41 L348.80 198.70 L350.80 198.99 L352.80 199.28 L354.80 199.56 L356.80 199.84 L358.80 200.11 L360.80 200.37 L362.80 200.63 L364.80 200.88 L366.80 201.11 L368.80 201.34 L370.80 201.55 L372.80 201.75 L374.80 201.94 L376.80 202.11 L378.80 202.27 L380.80 202.42 L382.80 202.56 L384.80 202.68 L386.80 202.80 L388.80 202.89 L390.80 202.98 L392.80 203.06 L394.80 203.13 L396.80 203.19 L398.80 203.25 L400.80 203.31 L402.80 203.36 L404.80 203.42 L406.80 203.47 L408.80 203.54 L410.80 203.60 L412.80 203.68 L414.80 203.77 L416.80 203.87 L418.80 203.97 L420.80 204.09 L422.80 204.22 L424.80 204.35 L426.80 204.49 L428.80 204.64 L430.80 204.79 L432.80 204.94 L434.80 205.09 L436.80 205.23 L438.80 205.39 L439.80 205.48" fill="none" stroke="#000080" stroke-width="1.2" stroke-linejoin="round" stroke-linecap="round" />
<path d="M166.80 170.50 L168.80 170.58 L170.80 170.65 L172.80 170.72 L174.80 170.79 L176.80 170.87 L178.80 170.94 L180.80 171.01 L182.80 171.09 L184.80 171.16 L186.80 171.23 L188.80 171.31 L190.80 171.39 L192.80 171.46 L194.80 171.54 L196.80 171.62 L198.80 171.71 L200.80 171.79 L202.80 171.88 L204.80 171.97 L206.80 172.06 L208.80 172.15 L210.80 172.24 L212.80 172.34 L214.80 172.44 L216.80 172.54 L218.80 172.64 L220.80 172.75 L222.80 172.85 L224.80 172.96 L226.80 173.06 L228.80 173.17 L230.80 173.28 L232.80 173.39 L234.80 173.50 L236.80 173.62 L238.80 173.73 L240.80 173.84 L242.80 173.96 L244.80 174.08 L246.80 174.20 L248.80 174.31 L250.80 174.44 L252.80 174.56 L254.80 174.68 L256.80 174.80 L258.80 174.92 L260.80 175.05 L262.80 175.17 L264.80 175.28 L266.80 175.40 L268.80 175.52 L270.80 175.63 L272.80 175.74 L274.80 175.86 L276.80 175.97 L278.80 176.08 L280.80 176.20 L282.80 176.32 L284.80 176.44 L286.80 176.57 L288.80 176.70 L290.80 176.83 L292.80 176.97 L294.80 177.12 L296.80 177.27 L298.80 177.43 L300.80 177.61 L302.80 177.79 L304.80 177.98 L306.80 178.18 L308.80 178.40 L310.80 178.63 L312.80 178.87 L314.80 179.13 L316.80 179.40 L318.80 179.69 L320.80 179.98 L322.80 180.29 L324.80 180.60 L326.80 180.93 L328.80 181.26 L330.80 181.60 L332.80 181.94 L334.80 182.29 L336.80 182.65 L338.80 183.01 L340.80 183.37 L342.80 183.73 L344.80 184.09 L346.80 184.45 L348.80 184.81 L350.80 185.16 L352.80 185.51 L354.80 185.85 L356.80 186.19 L358.80 186.53 L360.80 186.86 L362.80 187.19 L364.80 187.53 L366.80 187.86 L368.80 188.20 L370.80 188.54 L372.80 188.88 L374.80 189.23 L376.80 189.58 L378.80 189.94 L380.80 190.30 L382.80 190.67 L384.80 191.05 L386.80 191.43 L388.80 191.81 L390.80 192.19 L392.80 192.58 L394.80 192.97 L396.80 193.36 L398.80 193.76 L400.80 194.16 L402.80 194.56 L404.80 194.97 L406.80 195.37 L408.80 195.79 L410.80 196.20 L412.80 196.63 L414.80 197.06 L416.80 197.51 L418.80 197.98 L420.80 198.48 L422.80 199.03 L424.80 199.62 L426.80 200.27 L428.80 200.97 L430.80 201.72 L432.80 202.50 L434.80 203.28 L436.80 204.04 L438.80 204.91 L439.80 205.42" fill="none" stroke="#800000" stroke-width="1.2" stroke-linejoin="round" stroke-linecap="round" />
<path d="M166.80 170.50 L168.80 170.90 L170.80 171.23 L172.80 171.56 L174.80 171.91 L176.80 172.26 L178.80 172.61 L180.80 172.96 L182.80 173.32 L184.80 173.67 L186.80 174.02 L188.80 174.38 L190.80 174.74 L192.80 175.10 L194.80 175.46 L196.80 175.82 L198.80 176.19 L200.80 176.56 L202.80 176.94 L204.80 177.31 L206.80 177.69 L208.80 178.08 L210.80 178.47 L212.80 178.87 L214.80 179.28 L216.80 179.69 L218.80 180.11 L220.80 180.53 L222.80 180.95 L224.80 181.38 L226.80 181.81 L228.80 182.25 L230.80 182.68 L232.80 183.11 L234.80 183.55 L236.80 183.98 L238.80 184.41 L240.80 184.84 L242.80 185.26 L244.80 185.68 L246.80 186.10 L248.80 186.51 L250.80 186.91 L252.80 187.31 L254.80 187.70 L256.80 188.08 L258.80 188.46 L260.80 188.83 L262.80 189.19 L264.80 189.55 L266.80 189.90 L268.80 190.25 L270.80 190.59 L272.80 190.93 L274.80 191.27 L276.80 191.60 L278.80 191.93 L280.80 192.25 L282.80 192.57 L284.80 192.88 L286.80 193.20 L288.80 193.50 L290.80 193.81 L292.80 194.10 L294.80 194.40 L296.80 194.69 L298.80 194.97 L300.80 195.25 L302.80 195.53 L304.80 195.80 L306.80 196.07 L308.80 196.33 L310.80 196.58 L312.80 196.83 L314.80 197.07 L316.80 197.31 L318.80 197.53 L320.80 197.75 L322.80 197.97 L324.80 198.18 L326.80 198.38 L328.80 198.58 L330.80 198.77 L332.80 198.96 L334.80 199.15 L336.80 199.33 L338.80 199.51 L340.80 199.68 L342.80 199.86 L344.80 200.03 L346.80 200.20 L348.80 200.37 L350.80 200.54 L352.80 200.71 L354.80 200.88 L356.80 201.05 L358.80 201.22 L360.80 201.38 L362.80 201.54 L364.80 201.69 L366.80 201.84 L368.80 201.98 L370.80 202.12 L372.80 202.24 L374.80 202.36 L376.80 202.48 L378.80 202.58 L380.80 202.68 L382.80 202.78 L384.80 202.86 L386.80 202.94 L388.80 203.01 L390.80 203.08 L392.80 203.13 L394.80 203.19 L396.80 203.24 L398.80 203.29 L400.80 203.34 L402.80 203.39 L404.80 203.44 L406.80 203.49 L408.80 203.55 L410.80 203.61 L412.80 203.69 L414.80 203.77 L416.80 203.86 L418.80 203.97 L420.80 204.08 L422.80 204.21 L424.80 204.34 L426.80 204.48 L428.80 204.63 L430.80 204.78 L432.80 204.93 L434.80 205.08 L436.80 205.23 L438.80 205.39 L439.80 205.48" fill="none" stroke="#800000" stroke-width="1.2" stroke-linejoin="round" stroke-linecap="round" />
<rect x="162.80" y="1.40" width="281.40" height="216.10" fill="none" stroke="#4a4a4a" stroke-width="1.3"/>
<line x1="166.80" y1="217.50" x2="166.80" y2="220.50" stroke="#4a4a4a" stroke-width="1.3" />
<line x1="194.10" y1="217.50" x2="194.10" y2="222.50" stroke="#4a4a4a" stroke-width="1.3" />
<text x="193.80" y="238.80" font-size="17" text-anchor="middle" font-weight="normal" fill="#000000" font-family='"Liberation Sans", sans-serif' >-40</text>
<line x1="221.40" y1="217.50" x2="221.40" y2="220.50" stroke="#4a4a4a" stroke-width="1.3" />
<line x1="248.70" y1="217.50" x2="248.70" y2="222.50" stroke="#4a4a4a" stroke-width="1.3" />
<text x="248.40" y="238.80" font-size="17" text-anchor="middle" font-weight="normal" fill="#000000" font-family='"Liberation Sans", sans-serif' >-20</text>
<line x1="276.00" y1="217.50" x2="276.00" y2="220.50" stroke="#4a4a4a" stroke-width="1.3" />
<line x1="303.30" y1="217.50" x2="303.30" y2="222.50" stroke="#4a4a4a" stroke-width="1.3" />
<text x="303.00" y="238.80" font-size="17" text-anchor="middle" font-weight="normal" fill="#000000" font-family='"Liberation Sans", sans-serif' >0</text>
<line x1="330.60" y1="217.50" x2="330.60" y2="220.50" stroke="#4a4a4a" stroke-width="1.3" />
<line x1="357.90" y1="217.50" x2="357.90" y2="222.50" stroke="#4a4a4a" stroke-width="1.3" />
<text x="357.60" y="238.80" font-size="17" text-anchor="middle" font-weight="normal" fill="#000000" font-family='"Liberation Sans", sans-serif' >20</text>
<line x1="385.20" y1="217.50" x2="385.20" y2="220.50" stroke="#4a4a4a" stroke-width="1.3" />
<line x1="412.50" y1="217.50" x2="412.50" y2="222.50" stroke="#4a4a4a" stroke-width="1.3" />
<text x="412.20" y="238.80" font-size="17" text-anchor="middle" font-weight="normal" fill="#000000" font-family='"Liberation Sans", sans-serif' >40</text>
<line x1="439.80" y1="217.50" x2="439.80" y2="220.50" stroke="#4a4a4a" stroke-width="1.3" />
<line x1="157.80" y1="101.80" x2="162.80" y2="101.80" stroke="#4a4a4a" stroke-width="1.3" />
<text x="155.00" y="106.80" font-size="16.5" text-anchor="end" font-weight="normal" fill="#000000" font-family='"Liberation Sans", sans-serif' >4</text>
<line x1="157.80" y1="73.10" x2="162.80" y2="73.10" stroke="#4a4a4a" stroke-width="1.3" />
<text x="155.00" y="78.10" font-size="16.5" text-anchor="end" font-weight="normal" fill="#000000" font-family='"Liberation Sans", sans-serif' >5</text>
<line x1="157.80" y1="44.40" x2="162.80" y2="44.40" stroke="#4a4a4a" stroke-width="1.3" />
<text x="155.00" y="49.40" font-size="16.5" text-anchor="end" font-weight="normal" fill="#000000" font-family='"Liberation Sans", sans-serif' >6</text>
<line x1="157.80" y1="15.70" x2="162.80" y2="15.70" stroke="#4a4a4a" stroke-width="1.3" />
<text x="155.00" y="20.70" font-size="16.5" text-anchor="end" font-weight="normal" fill="#000000" font-family='"Liberation Sans", sans-serif' >7</text>
<line x1="159.80" y1="87.45" x2="162.80" y2="87.45" stroke="#4a4a4a" stroke-width="1.3" />
<line x1="159.80" y1="58.75" x2="162.80" y2="58.75" stroke="#4a4a4a" stroke-width="1.3" />
<line x1="159.80" y1="30.05" x2="162.80" y2="30.05" stroke="#4a4a4a" stroke-width="1.3" />
<line x1="157.80" y1="189.70" x2="162.80" y2="189.70" stroke="#4a4a4a" stroke-width="1.3" />
<text x="155.00" y="195.30" font-size="16.5" text-anchor="end" font-weight="normal" fill="#000000" font-family='"Liberation Sans", sans-serif' >1</text>
<line x1="157.80" y1="133.20" x2="162.80" y2="133.20" stroke="#4a4a4a" stroke-width="1.3" />
<text x="155.00" y="138.80" font-size="16.5" text-anchor="end" font-weight="normal" fill="#000000" font-family='"Liberation Sans", sans-serif' >2</text>
<line x1="159.80" y1="161.45" x2="162.80" y2="161.45" stroke="#4a4a4a" stroke-width="1.3" />
<rect x="160.80" y="106.8" width="4" height="3.6" fill="#fff"/>
<line x1="158.20" y1="109.60" x2="167.00" y2="105.60" stroke="#4a4a4a" stroke-width="1.2" />
<line x1="158.20" y1="113.30" x2="167.00" y2="109.30" stroke="#4a4a4a" stroke-width="1.2" />
<rect x="442.20" y="106.8" width="4" height="3.6" fill="#fff"/>
<line x1="439.60" y1="109.60" x2="448.40" y2="105.60" stroke="#4a4a4a" stroke-width="1.2" />
<line x1="439.60" y1="113.30" x2="448.40" y2="109.30" stroke="#4a4a4a" stroke-width="1.2" />
<text x="391.00" y="17.00" font-size="13.6" text-anchor="middle" font-weight="normal" fill="#000000" font-family='"Liberation Sans", sans-serif' >Temperature (K)</text>
<line x1="346.00" y1="30.30" x2="370.00" y2="30.30" stroke="#000000" stroke-width="1.3" />
<text x="373.00" y="34.10" font-size="10.6" text-anchor="start" font-weight="normal" fill="#000000" font-family='"Liberation Sans", sans-serif' >150</text>
<line x1="346.00" y1="43.50" x2="370.00" y2="43.50" stroke="#ff0000" stroke-width="1.3" />
<text x="373.00" y="47.30" font-size="10.6" text-anchor="start" font-weight="normal" fill="#000000" font-family='"Liberation Sans", sans-serif' >180</text>
<line x1="346.00" y1="56.70" x2="370.00" y2="56.70" stroke="#0000ff" stroke-width="1.3" />
<text x="373.00" y="60.50" font-size="10.6" text-anchor="start" font-weight="normal" fill="#000000" font-family='"Liberation Sans", sans-serif' >240</text>
<line x1="346.00" y1="69.90" x2="370.00" y2="69.90" stroke="#008080" stroke-width="1.3" />
<text x="373.00" y="73.70" font-size="10.6" text-anchor="start" font-weight="normal" fill="#000000" font-family='"Liberation Sans", sans-serif' >270</text>
<line x1="396.00" y1="31.30" x2="421.00" y2="31.30" stroke="#ff00ff" stroke-width="1.3" />
<text x="422.50" y="35.10" font-size="10.6" text-anchor="start" font-weight="normal" fill="#000000" font-family='"Liberation Sans", sans-serif' >293</text>
<line x1="396.00" y1="44.50" x2="421.00" y2="44.50" stroke="#808000" stroke-width="1.3" />
<text x="422.50" y="48.30" font-size="10.6" text-anchor="start" font-weight="normal" fill="#000000" font-family='"Liberation Sans", sans-serif' >320</text>
<line x1="396.00" y1="57.70" x2="421.00" y2="57.70" stroke="#000080" stroke-width="1.3" />
<text x="422.50" y="61.50" font-size="10.6" text-anchor="start" font-weight="normal" fill="#000000" font-family='"Liberation Sans", sans-serif' >330</text>
<line x1="396.00" y1="70.90" x2="421.00" y2="70.90" stroke="#800000" stroke-width="1.3" />
<text x="422.50" y="74.70" font-size="10.6" text-anchor="start" font-weight="normal" fill="#000000" font-family='"Liberation Sans", sans-serif' >340</text>
<text x="115.80" y="18.90" font-size="17.5" text-anchor="start" font-weight="bold" fill="#000000" font-family='"Liberation Sans", sans-serif' >(a)</text>
<text transform="translate(128,141) rotate(-90)" font-size="16.5" fill="#000000" font-family='"Liberation Sans", sans-serif'>I<tspan dy="5.5" dx="0.5" font-size="11.5">d</tspan><tspan dy="-5.5"> (µA)</tspan></text>
<text x="286" y="254.9" font-size="16.5" fill="#000000" font-family='"Liberation Sans", sans-serif'>V<tspan dy="6" font-size="10.5">gs</tspan><tspan dy="-6" dx="1.2"> (V)</tspan></text>
<path d="M63.60 433.27 L95.82 431.48 L160.26 426.84 L192.48 412.55 L217.18 388.61 L246.18 331.10 L256.92 313.59 L267.66 292.51" fill="none" stroke="#d6d6d6" stroke-width="1"/>
<rect x="53.00" y="274.60" width="230.60" height="177.40" fill="none" stroke="#4a4a4a" stroke-width="1.3"/>
<line x1="63.60" y1="452.00" x2="63.60" y2="456.00" stroke="#4a4a4a" stroke-width="1.3" />
<text x="63.60" y="469.60" font-size="13.6" text-anchor="middle" font-weight="normal" fill="#000000" font-family='"Liberation Sans", sans-serif' >150</text>
<line x1="90.45" y1="452.00" x2="90.45" y2="454.50" stroke="#4a4a4a" stroke-width="1.3" />
<line x1="117.30" y1="452.00" x2="117.30" y2="456.00" stroke="#4a4a4a" stroke-width="1.3" />
<text x="117.30" y="469.60" font-size="13.6" text-anchor="middle" font-weight="normal" fill="#000000" font-family='"Liberation Sans", sans-serif' >200</text>
<line x1="144.15" y1="452.00" x2="144.15" y2="454.50" stroke="#4a4a4a" stroke-width="1.3" />
<line x1="171.00" y1="452.00" x2="171.00" y2="456.00" stroke="#4a4a4a" stroke-width="1.3" />
<text x="171.00" y="469.60" font-size="13.6" text-anchor="middle" font-weight="normal" fill="#000000" font-family='"Liberation Sans", sans-serif' >250</text>
<line x1="197.85" y1="452.00" x2="197.85" y2="454.50" stroke="#4a4a4a" stroke-width="1.3" />
<line x1="224.70" y1="452.00" x2="224.70" y2="456.00" stroke="#4a4a4a" stroke-width="1.3" />
<text x="224.70" y="469.60" font-size="13.6" text-anchor="middle" font-weight="normal" fill="#000000" font-family='"Liberation Sans", sans-serif' >300</text>
<line x1="251.55" y1="452.00" x2="251.55" y2="454.50" stroke="#4a4a4a" stroke-width="1.3" />
<line x1="278.40" y1="452.00" x2="278.40" y2="456.00" stroke="#4a4a4a" stroke-width="1.3" />
<text x="278.40" y="469.60" font-size="13.6" text-anchor="middle" font-weight="normal" fill="#000000" font-family='"Liberation Sans", sans-serif' >350</text>
<line x1="49.00" y1="434.70" x2="53.00" y2="434.70" stroke="#4a4a4a" stroke-width="1.3" />
<text x="46.50" y="439.50" font-size="13.6" text-anchor="end" font-weight="normal" fill="#000000" font-family='"Liberation Sans", sans-serif' >0</text>
<line x1="50.50" y1="416.84" x2="53.00" y2="416.84" stroke="#4a4a4a" stroke-width="1.3" />
<line x1="49.00" y1="398.98" x2="53.00" y2="398.98" stroke="#4a4a4a" stroke-width="1.3" />
<text x="46.50" y="403.78" font-size="13.6" text-anchor="end" font-weight="normal" fill="#000000" font-family='"Liberation Sans", sans-serif' >10</text>
<line x1="50.50" y1="381.11" x2="53.00" y2="381.11" stroke="#4a4a4a" stroke-width="1.3" />
<line x1="49.00" y1="363.25" x2="53.00" y2="363.25" stroke="#4a4a4a" stroke-width="1.3" />
<text x="46.50" y="368.05" font-size="13.6" text-anchor="end" font-weight="normal" fill="#000000" font-family='"Liberation Sans", sans-serif' >20</text>
<line x1="50.50" y1="345.39" x2="53.00" y2="345.39" stroke="#4a4a4a" stroke-width="1.3" />
<line x1="49.00" y1="327.52" x2="53.00" y2="327.52" stroke="#4a4a4a" stroke-width="1.3" />
<text x="46.50" y="332.32" font-size="13.6" text-anchor="end" font-weight="normal" fill="#000000" font-family='"Liberation Sans", sans-serif' >30</text>
<line x1="50.50" y1="309.66" x2="53.00" y2="309.66" stroke="#4a4a4a" stroke-width="1.3" />
<line x1="49.00" y1="291.80" x2="53.00" y2="291.80" stroke="#4a4a4a" stroke-width="1.3" />
<text x="46.50" y="296.60" font-size="13.6" text-anchor="end" font-weight="normal" fill="#000000" font-family='"Liberation Sans", sans-serif' >40</text>
<circle cx="63.60" cy="433.27" r="3.0" fill="url(#gr)"/>
<circle cx="95.82" cy="431.48" r="3.0" fill="url(#gr)"/>
<circle cx="160.26" cy="426.84" r="3.0" fill="url(#gr)"/>
<circle cx="192.48" cy="412.55" r="3.0" fill="url(#gr)"/>
<circle cx="217.18" cy="388.61" r="3.0" fill="url(#gr)"/>
<circle cx="246.18" cy="331.10" r="3.0" fill="url(#gr)"/>
<circle cx="256.92" cy="313.59" r="3.0" fill="url(#gr)"/>
<circle cx="267.66" cy="292.51" r="3.0" fill="url(#gr)"/>
<line x1="73.00" y1="290.40" x2="99.00" y2="290.40" stroke="#d6d6d6" stroke-width="1" />
<circle cx="85.5" cy="290.4" r="3.0" fill="url(#gr)"/>
<text x="102.80" y="294.40" font-size="10.9" text-anchor="start" font-weight="normal" fill="#000000" font-family='"Liberation Sans", sans-serif' >hysteresis width</text>
<text x="0.50" y="288.70" font-size="17.5" text-anchor="start" font-weight="bold" fill="#000000" font-family='"Liberation Sans", sans-serif' >(b)</text>
<text x="117.00" y="489.50" font-size="14.3" text-anchor="start" font-weight="normal" fill="#000000" font-family='"Liberation Sans", sans-serif' >Temperature (K)</text>
<text transform="translate(14.6,390.3) rotate(-90)" font-size="14.5" fill="#000000" font-family='"Liberation Sans", sans-serif'>H<tspan dy="3.5" font-size="9.5">w</tspan><tspan dy="-3.5"> (V)</tspan></text>
<path d="M363.30 287.18 L397.28 311.29 L465.24 388.48 L499.22 401.81 L525.28 403.62 L555.86 442.62 L567.19 442.62 L578.51 442.62" fill="none" stroke="#9c9cec" stroke-width="1" stroke-dasharray="1.5 1.7"/>
<rect x="351.80" y="276.80" width="237.80" height="174.20" fill="none" stroke="#4a4a4a" stroke-width="1.3"/>
<line x1="363.30" y1="451.00" x2="363.30" y2="455.00" stroke="#4a4a4a" stroke-width="1.3" />
<text x="363.30" y="468.40" font-size="13.6" text-anchor="middle" font-weight="normal" fill="#000000" font-family='"Liberation Sans", sans-serif' >150</text>
<line x1="391.62" y1="451.00" x2="391.62" y2="453.50" stroke="#4a4a4a" stroke-width="1.3" />
<line x1="419.94" y1="451.00" x2="419.94" y2="455.00" stroke="#4a4a4a" stroke-width="1.3" />
<text x="419.94" y="468.40" font-size="13.6" text-anchor="middle" font-weight="normal" fill="#000000" font-family='"Liberation Sans", sans-serif' >200</text>
<line x1="448.25" y1="451.00" x2="448.25" y2="453.50" stroke="#4a4a4a" stroke-width="1.3" />
<line x1="476.57" y1="451.00" x2="476.57" y2="455.00" stroke="#4a4a4a" stroke-width="1.3" />
<text x="476.57" y="468.40" font-size="13.6" text-anchor="middle" font-weight="normal" fill="#000000" font-family='"Liberation Sans", sans-serif' >250</text>
<line x1="504.89" y1="451.00" x2="504.89" y2="453.50" stroke="#4a4a4a" stroke-width="1.3" />
<line x1="533.21" y1="451.00" x2="533.21" y2="455.00" stroke="#4a4a4a" stroke-width="1.3" />
<text x="533.21" y="468.40" font-size="13.6" text-anchor="middle" font-weight="normal" fill="#000000" font-family='"Liberation Sans", sans-serif' >300</text>
<line x1="561.52" y1="451.00" x2="561.52" y2="453.50" stroke="#4a4a4a" stroke-width="1.3" />
<line x1="589.84" y1="451.00" x2="589.84" y2="455.00" stroke="#4a4a4a" stroke-width="1.3" />
<text x="589.84" y="468.40" font-size="13.6" text-anchor="middle" font-weight="normal" fill="#000000" font-family='"Liberation Sans", sans-serif' >350</text>
<line x1="349.30" y1="448.22" x2="351.80" y2="448.22" stroke="#4a4a4a" stroke-width="1.3" />
<line x1="347.80" y1="432.65" x2="351.80" y2="432.65" stroke="#4a4a4a" stroke-width="1.3" />
<text x="345.80" y="436.55" font-size="13.6" text-anchor="end" font-weight="normal" fill="#000000" font-family='"Liberation Sans", sans-serif' >50</text>
<line x1="349.30" y1="417.07" x2="351.80" y2="417.07" stroke="#4a4a4a" stroke-width="1.3" />
<line x1="347.80" y1="401.50" x2="351.80" y2="401.50" stroke="#4a4a4a" stroke-width="1.3" />
<text x="345.80" y="405.40" font-size="13.6" text-anchor="end" font-weight="normal" fill="#000000" font-family='"Liberation Sans", sans-serif' >100</text>
<line x1="349.30" y1="385.92" x2="351.80" y2="385.92" stroke="#4a4a4a" stroke-width="1.3" />
<line x1="347.80" y1="370.35" x2="351.80" y2="370.35" stroke="#4a4a4a" stroke-width="1.3" />
<text x="345.80" y="374.25" font-size="13.6" text-anchor="end" font-weight="normal" fill="#000000" font-family='"Liberation Sans", sans-serif' >150</text>
<line x1="349.30" y1="354.77" x2="351.80" y2="354.77" stroke="#4a4a4a" stroke-width="1.3" />
<line x1="347.80" y1="339.20" x2="351.80" y2="339.20" stroke="#4a4a4a" stroke-width="1.3" />
<text x="345.80" y="343.10" font-size="13.6" text-anchor="end" font-weight="normal" fill="#000000" font-family='"Liberation Sans", sans-serif' >200</text>
<line x1="349.30" y1="323.62" x2="351.80" y2="323.62" stroke="#4a4a4a" stroke-width="1.3" />
<line x1="347.80" y1="308.05" x2="351.80" y2="308.05" stroke="#4a4a4a" stroke-width="1.3" />
<text x="345.80" y="311.95" font-size="13.6" text-anchor="end" font-weight="normal" fill="#000000" font-family='"Liberation Sans", sans-serif' >250</text>
<line x1="349.30" y1="292.47" x2="351.80" y2="292.47" stroke="#4a4a4a" stroke-width="1.3" />
<line x1="347.80" y1="276.90" x2="351.80" y2="276.90" stroke="#4a4a4a" stroke-width="1.3" />
<text x="345.80" y="280.80" font-size="13.6" text-anchor="end" font-weight="normal" fill="#000000" font-family='"Liberation Sans", sans-serif' >300</text>
<circle cx="363.30" cy="287.18" r="3.0" fill="url(#gb)"/>
<circle cx="397.28" cy="311.29" r="3.0" fill="url(#gb)"/>
<circle cx="465.24" cy="388.48" r="3.0" fill="url(#gb)"/>
<circle cx="499.22" cy="401.81" r="3.0" fill="url(#gb)"/>
<circle cx="525.28" cy="403.62" r="3.0" fill="url(#gb)"/>
<circle cx="555.86" cy="442.62" r="3.0" fill="url(#gb)"/>
<circle cx="567.19" cy="442.62" r="3.0" fill="url(#gb)"/>
<circle cx="578.51" cy="442.62" r="3.0" fill="url(#gb)"/>
<line x1="354.00" y1="440.50" x2="379.00" y2="440.50" stroke="#8e8ee8" stroke-width="1" stroke-dasharray="1.6 1.6"/>
<circle cx="366.3" cy="440.5" r="3.0" fill="url(#gb)"/>
<text x="381.80" y="444.90" font-size="10.9" text-anchor="start" font-weight="normal" fill="#000000" font-family='"Liberation Sans", sans-serif' >mobility</text>
<text x="290.80" y="288.20" font-size="17.5" text-anchor="start" font-weight="bold" fill="#000000" font-family='"Liberation Sans", sans-serif' >(c)</text>
<text x="419.50" y="485.30" font-size="14.3" text-anchor="start" font-weight="normal" fill="#000000" font-family='"Liberation Sans", sans-serif' >Temperature (K)</text>
<text transform="translate(313.8,402.8) rotate(-90)" font-size="14.3" fill="#000000" font-family='"Liberation Sans", sans-serif'>µ<tspan dy="3.6" font-size="9.5">eff</tspan><tspan dy="-3.6"> (cm</tspan><tspan dy="-5.8" font-size="9.5">2</tspan><tspan dy="5.8">V</tspan><tspan dy="-5.8" font-size="9.5">-1</tspan><tspan dy="5.8">s</tspan><tspan dy="-5.8" font-size="9.5">-1</tspan><tspan dy="5.8">)</tspan></text>
<rect x="492.30" y="282.30" width="94.90" height="76.80" fill="#fff" stroke="#707070" stroke-width="1"/>
<line x1="498.40" y1="284.20" x2="582.60" y2="346.70" stroke="#ff2020" stroke-width="1.1" />
<line x1="505.00" y1="359.10" x2="505.00" y2="362.10" stroke="#707070" stroke-width="1" />
<text x="504.40" y="370.20" font-size="10.2" text-anchor="middle" font-weight="normal" fill="#000000" font-family='"Liberation Sans", sans-serif' >2.2</text>
<line x1="528.23" y1="359.10" x2="528.23" y2="362.10" stroke="#707070" stroke-width="1" />
<text x="527.63" y="370.20" font-size="10.2" text-anchor="middle" font-weight="normal" fill="#000000" font-family='"Liberation Sans", sans-serif' >2.3</text>
<line x1="551.46" y1="359.10" x2="551.46" y2="362.10" stroke="#707070" stroke-width="1" />
<text x="550.86" y="370.20" font-size="10.2" text-anchor="middle" font-weight="normal" fill="#000000" font-family='"Liberation Sans", sans-serif' >2.4</text>
<line x1="574.69" y1="359.10" x2="574.69" y2="362.10" stroke="#707070" stroke-width="1" />
<text x="574.09" y="370.20" font-size="10.2" text-anchor="middle" font-weight="normal" fill="#000000" font-family='"Liberation Sans", sans-serif' >2.5</text>
<line x1="516.62" y1="359.10" x2="516.62" y2="361.10" stroke="#707070" stroke-width="1" />
<line x1="539.85" y1="359.10" x2="539.85" y2="361.10" stroke="#707070" stroke-width="1" />
<line x1="563.08" y1="359.10" x2="563.08" y2="361.10" stroke="#707070" stroke-width="1" />
<line x1="489.30" y1="359.10" x2="492.30" y2="359.10" stroke="#707070" stroke-width="1" />
<text x="489.80" y="362.70" font-size="10.2" text-anchor="end" font-weight="normal" fill="#000000" font-family='"Liberation Sans", sans-serif' >1.4</text>
<line x1="489.30" y1="346.20" x2="492.30" y2="346.20" stroke="#707070" stroke-width="1" />
<text x="489.80" y="349.80" font-size="10.2" text-anchor="end" font-weight="normal" fill="#000000" font-family='"Liberation Sans", sans-serif' >1.6</text>
<line x1="489.30" y1="333.30" x2="492.30" y2="333.30" stroke="#707070" stroke-width="1" />
<text x="489.80" y="336.90" font-size="10.2" text-anchor="end" font-weight="normal" fill="#000000" font-family='"Liberation Sans", sans-serif' >1.8</text>
<line x1="489.30" y1="320.40" x2="492.30" y2="320.40" stroke="#707070" stroke-width="1" />
<text x="489.80" y="324.00" font-size="10.2" text-anchor="end" font-weight="normal" fill="#000000" font-family='"Liberation Sans", sans-serif' >2.0</text>
<line x1="489.30" y1="307.50" x2="492.30" y2="307.50" stroke="#707070" stroke-width="1" />
<text x="489.80" y="311.10" font-size="10.2" text-anchor="end" font-weight="normal" fill="#000000" font-family='"Liberation Sans", sans-serif' >2.2</text>
<line x1="489.30" y1="294.60" x2="492.30" y2="294.60" stroke="#707070" stroke-width="1" />
<text x="489.80" y="298.20" font-size="10.2" text-anchor="end" font-weight="normal" fill="#000000" font-family='"Liberation Sans", sans-serif' >2.4</text>
<line x1="489.30" y1="281.70" x2="492.30" y2="281.70" stroke="#707070" stroke-width="1" />
<text x="489.80" y="285.30" font-size="10.2" text-anchor="end" font-weight="normal" fill="#000000" font-family='"Liberation Sans", sans-serif' >2.6</text>
<circle cx="498.40" cy="291.70" r="2.9" fill="url(#gk)"/>
<circle cx="516.60" cy="295.50" r="2.9" fill="url(#gk)"/>
<circle cx="546.80" cy="315.40" r="2.9" fill="url(#gk)"/>
<circle cx="558.70" cy="320.70" r="2.9" fill="url(#gk)"/>
<circle cx="567.10" cy="321.70" r="2.9" fill="url(#gk)"/>
<circle cx="575.60" cy="350.90" r="2.9" fill="url(#gk)"/>
<circle cx="579.00" cy="350.90" r="2.9" fill="url(#gk)"/>
<circle cx="582.40" cy="350.90" r="2.9" fill="url(#gk)"/>
<text x="524.50" y="380.60" font-size="10" text-anchor="start" font-weight="normal" fill="#000000" font-family='"Liberation Sans", sans-serif' >log(T)</text>
<text transform="translate(471.2,339.5) rotate(-90)" font-size="10" fill="#000000" font-family='"Liberation Sans", sans-serif'>log(µ<tspan dy="2.5" font-size="6.5">eff</tspan><tspan dy="-2.5">)</tspan></text>
<text y="298" font-size="10" fill="#000000" font-family='"Liberation Sans", sans-serif'><tspan x="542.8" font-size="8">µ</tspan><tspan x="547.3" y="302.4" font-size="9.5">eff</tspan><tspan x="560.5" y="298">~</tspan><tspan x="568.8">T</tspan><tspan x="575.2" y="292.5" font-size="9">-α</tspan></text>
<text x="547.3" y="313.6" font-size="12.6" fill="#000000" font-family='"Liberation Serif", serif'>α ~ 2.7</text>
</svg></body></html>
